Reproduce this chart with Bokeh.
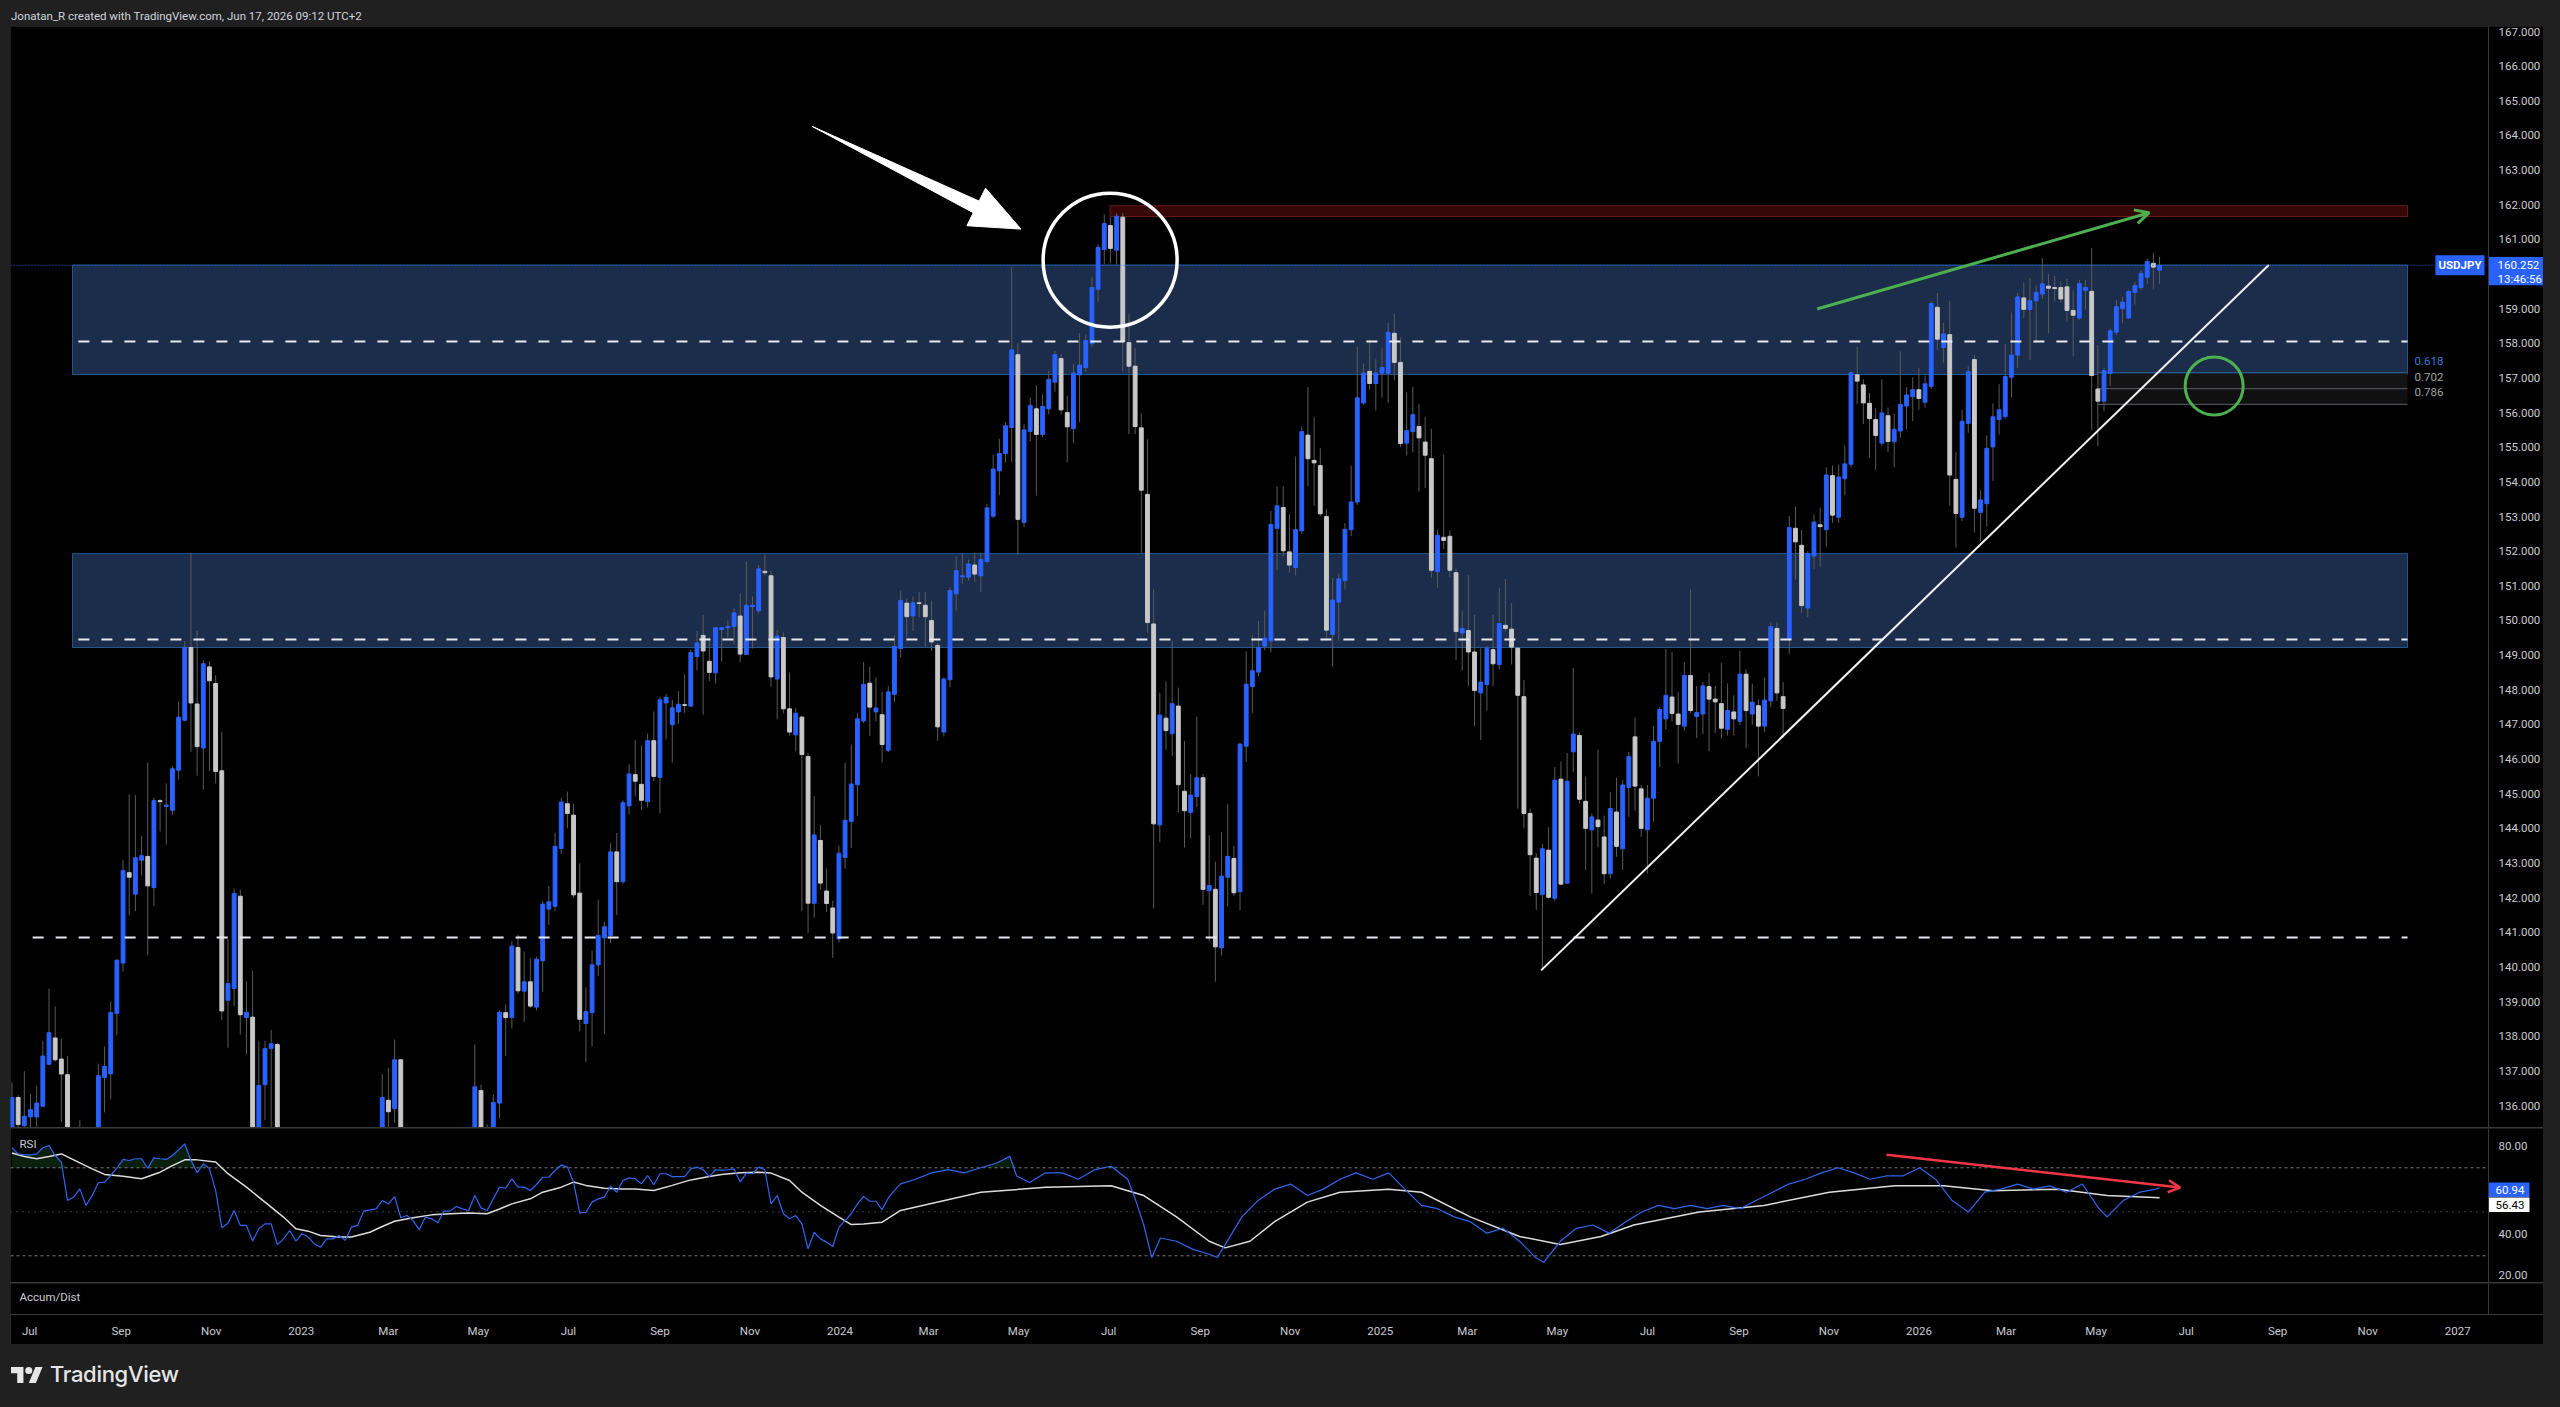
import datetime as dt
import numpy as np
from bokeh.plotting import figure
from bokeh.layouts import column, row
from bokeh.models import (ColumnDataSource, Range1d, FixedTicker, Label, Span, Arrow, OpenHead,
                          Div, Spacer)
from bokeh.core.properties import value
from bokeh.embed import file_html
from bokeh.resources import INLINE

nan = float("nan")

# ---------------- DATA ----------------
FIRST_BAR = "2022-06-19"
LAST_BAR = "2026-06-13"

OPEN = [
    135.2, 136.23, 135.42, 135.67, 135.67, 135.98, 137.19, 137.95, 137.34, 136.89,
    nan, 133.0, nan, nan, 134.5, 136.81, 136.91, 138.66, 140.11, 142.72,
    142.10, 143.08, 143.19, 142.29, 144.80, 144.63, 144.52, 145.68, 147.12, 149.22,
    147.59, 146.32, 148.66, 148.18, 145.66, 139.04, 139.38, 142.04, 138.54, 138.55,
    134.5, 136.60, 137.65, 137.76, nan, nan, nan, nan, nan, nan,
    nan, nan, nan, nan, nan, nan, nan, nan, nan, nan,
    134.8, 136.15, 135.91, 137.32, nan, nan, nan, nan, nan, nan,
    nan, nan, nan, nan, nan, 134.5, 136.43, 134.0, 134.5, 136.07,
    138.68, 138.54, 140.56, 139.30, 139.57, 138.84, 140.18, 141.67, 141.75, 143.42,
    144.71, 144.38, 142.13, 138.37, 138.68, 140.06, 140.84, 140.91, 143.32, 142.46,
    144.65, 145.55, 145.27, 144.77, 146.53, 145.47, 147.62, 146.99, 147.36, 147.57,
    147.53, 148.96, 149.57, 148.82, 148.49, 149.74, 149.79, 149.83, 150.13, 149.02,
    150.40, 150.28, 151.42, 151.29, 148.31, 149.51, 147.45, 146.70, 147.21, 146.07,
    141.84, 143.65, 142.19, 141.70, 140.81, 143.16, 144.20, 145.26, 147.10, 148.19,
    147.36, 147.28, 146.25, 147.87, 149.19, 150.50, 150.13, 150.51, 150.44, 150.00,
    149.28, 146.78, 148.29, 150.77, 151.26, 151.25, 151.60, 151.29, 151.70, 153.01,
    154.32, 154.82, 155.57, 157.67, 152.83, 155.46, 156.11, 155.37, 156.11, 156.88,
    157.56, 156.00, 155.54, 157.09, 157.30, 157.99, 159.56, 160.71, 161.40, 160.69,
    161.64, 158.02, 157.34, 155.56, 153.64, 149.90, 144.10, 147.18, 146.73, 147.53,
    145.07, 144.46, 144.92, 145.46, 142.20, 142.24, 140.55, 142.59, 143.13, 142.17,
    146.37, 148.09, 148.51, 149.26, 149.41, 152.66, 153.26, 151.98, 151.53, 152.59,
    155.35, 154.62, 154.47, 153.00, 149.60, 150.53, 151.15, 152.62, 153.42, 156.28,
    157.19, 156.84, 157.14, 157.14, 158.29, 157.45, 155.12, 155.45, 155.60, 155.15,
    154.67, 151.41, 152.40, 152.43, 151.38, 149.64, 149.71, 149.09, 147.91, 148.15,
    149.16, 148.73, 149.86, 149.75, 149.20, 147.80, 144.43, 143.14, 142.09, 143.37,
    141.98, 145.42, 142.42, 146.21, 146.68, 144.78, 143.96, 144.24, 143.75, 142.69,
    144.47, 143.41, 145.18, 146.64, 145.14, 143.96, 144.87, 146.51, 147.16, 147.79,
    147.30, 146.95, 148.41, 147.23, 147.30, 148.09, 147.73, 147.60, 146.86, 147.36,
    147.09, 148.45, 147.30, 147.54, 146.95, 147.68, 149.77, 147.80, 149.45, 152.66,
    152.17, 150.36, 151.86, 152.76, 152.62, 154.18, 152.98, 154.09, 154.51, 157.09,
    156.80, 156.27, 155.80, 155.12, 155.91, 155.16, 155.47, 156.19, 156.46, 156.66,
    156.30, 156.76, 159.04, 157.88, 158.25, 154.07, 152.98, 155.69, 157.53, 153.12,
    153.37, 155.01, 155.80, 155.89, 157.02, 157.66, 159.31, 158.98, 159.23, 159.42,
    159.65, 159.61, 159.61, 159.63, 158.95, 158.73, 159.53, 159.50, 156.68, 156.33,
    157.13, 158.32, 159.00, 158.73, 159.47, 159.61, 159.91, 160.31, 160.11,
]
HIGH = [
    136.67, 136.30, 136.99, 136.34, 136.56, 137.86, 139.38, 138.86, 137.94, 137.43,
    nan, 135.58, nan, nan, 137.21, 137.70, 139.00, 140.23, 143.08, 144.98,
    144.96, 143.78, 145.90, 144.89, 144.85, 145.30, 145.79, 147.67, 149.40, 151.95,
    149.70, 148.85, 148.83, 148.42, 146.79, 140.80, 142.26, 142.23, 139.58, 139.89,
    137.86, 137.86, 138.18, 137.81, nan, nan, nan, nan, nan, nan,
    nan, nan, nan, nan, nan, nan, nan, nan, nan, nan,
    136.91, 137.08, 137.91, 137.34, nan, nan, nan, nan, nan, nan,
    nan, nan, nan, nan, nan, 137.76, 136.60, 135.46, 136.32, 138.75,
    138.92, 140.74, 140.93, 140.45, 140.25, 140.30, 141.90, 142.34, 143.86, 144.88,
    145.06, 144.71, 142.99, 139.41, 140.47, 141.94, 141.31, 143.57, 143.87, 144.81,
    145.85, 146.55, 146.39, 146.73, 147.37, 147.80, 147.88, 147.71, 147.96, 148.45,
    149.15, 149.70, 150.16, 149.51, 149.81, 149.81, 150.00, 150.35, 150.77, 151.70,
    150.69, 151.60, 151.89, 151.44, 149.73, 149.66, 148.50, 147.47, 147.25, 146.18,
    144.93, 144.10, 142.83, 141.91, 143.50, 145.90, 146.42, 147.32, 148.80, 148.67,
    148.35, 147.94, 148.10, 149.57, 150.86, 150.64, 150.69, 150.82, 150.82, 150.57,
    149.35, 148.35, 150.95, 151.85, 151.93, 151.76, 151.96, 151.96, 153.37, 154.79,
    155.24, 155.72, 160.20, 158.00, 155.67, 156.44, 156.79, 156.53, 157.21, 157.78,
    157.69, 156.49, 157.40, 158.30, 158.25, 159.91, 160.86, 161.72, 161.64, 161.76,
    161.76, 158.85, 157.87, 155.98, 155.23, 150.89, 147.91, 148.24, 149.42, 148.06,
    146.52, 145.57, 147.23, 145.57, 143.80, 143.04, 143.90, 144.70, 143.50, 146.47,
    149.11, 149.57, 149.99, 150.29, 153.16, 153.87, 153.87, 153.07, 154.73, 155.60,
    156.74, 155.88, 154.97, 153.22, 151.23, 151.35, 152.81, 154.47, 157.90, 157.42,
    158.10, 157.54, 157.87, 158.59, 158.85, 158.17, 156.59, 156.74, 156.24, 155.88,
    155.53, 152.62, 154.79, 152.60, 151.50, 150.29, 151.31, 150.16, 149.20, 149.27,
    150.16, 150.95, 151.20, 150.50, 149.23, 148.28, 144.57, 143.28, 143.55, 144.03,
    145.77, 145.93, 146.18, 148.63, 146.78, 145.50, 144.43, 146.27, 144.37, 145.05,
    145.46, 145.39, 146.21, 147.20, 145.25, 145.25, 146.95, 147.50, 149.18, 149.09,
    147.94, 148.79, 150.90, 148.11, 148.22, 148.49, 148.11, 148.77, 148.18, 147.84,
    149.13, 148.59, 148.18, 147.73, 148.36, 149.95, 149.95, 148.22, 153.02, 153.29,
    152.61, 152.00, 153.06, 153.26, 154.42, 154.47, 154.50, 155.05, 157.18, 157.90,
    156.96, 156.57, 156.13, 156.96, 156.15, 155.97, 157.77, 156.74, 157.02, 157.29,
    157.07, 159.23, 159.45, 158.59, 159.23, 154.86, 156.08, 157.35, 157.66, 153.76,
    155.34, 156.26, 156.82, 157.99, 158.89, 159.45, 159.76, 159.89, 159.67, 160.46,
    160.00, 159.95, 159.78, 159.86, 159.53, 159.83, 159.83, 160.75, 157.95, 157.29,
    158.43, 159.25, 159.34, 159.55, 159.78, 160.10, 160.44, 160.61, 160.50,
]
LOW = [
    134.90, 135.30, 135.30, 135.37, 135.37, 135.96, 137.16, 137.27, 135.53, 133.50,
    nan, 132.00, nan, nan, 134.00, 135.80, 136.18, 138.03, 139.87, 141.50,
    141.61, 142.64, 140.34, 141.75, 143.91, 143.53, 144.38, 145.41, 147.09, 146.21,
    145.52, 145.11, 145.66, 145.30, 138.46, 137.67, 138.87, 138.05, 137.48, 133.60,
    133.90, 135.58, 135.37, 134.00, nan, nan, nan, nan, nan, nan,
    nan, nan, nan, nan, nan, nan, nan, nan, nan, nan,
    134.50, 135.37, 135.50, 133.50, nan, nan, nan, nan, nan, nan,
    nan, nan, nan, nan, nan, 134.00, 134.00, 133.50, 134.20, 135.63,
    137.43, 138.22, 139.22, 138.41, 138.81, 138.75, 139.28, 141.21, 141.61, 143.27,
    144.00, 142.00, 138.14, 137.25, 137.70, 139.74, 138.06, 140.69, 141.50, 142.40,
    144.40, 144.92, 144.52, 144.60, 145.36, 144.43, 146.57, 145.90, 147.01, 147.33,
    147.50, 148.56, 147.28, 148.25, 148.18, 148.81, 149.50, 149.32, 148.80, 149.02,
    149.19, 150.20, 151.30, 148.09, 147.15, 147.32, 146.67, 146.22, 141.61, 140.98,
    141.42, 142.23, 141.58, 140.26, 140.70, 142.83, 143.43, 144.35, 147.04, 146.67,
    147.09, 145.90, 146.20, 147.64, 148.93, 149.51, 149.70, 150.09, 149.23, 149.12,
    146.52, 146.65, 148.07, 150.28, 151.06, 151.16, 151.12, 150.82, 151.65, 152.96,
    153.61, 154.56, 154.56, 151.89, 152.70, 155.18, 153.61, 155.28, 155.95, 156.60,
    155.95, 154.56, 155.12, 155.72, 157.17, 157.90, 159.20, 160.28, 160.31, 160.28,
    157.19, 155.38, 155.38, 151.95, 149.64, 141.69, 143.60, 146.27, 146.09, 144.46,
    143.45, 143.71, 144.61, 141.79, 140.73, 139.57, 140.33, 141.75, 142.05, 141.64,
    145.91, 147.33, 148.39, 149.14, 149.08, 151.45, 151.86, 151.38, 151.30, 152.50,
    153.87, 153.31, 153.00, 149.41, 148.66, 149.41, 150.89, 152.43, 153.34, 156.21,
    156.66, 156.06, 156.43, 156.28, 156.93, 155.00, 154.77, 154.85, 153.72, 153.82,
    151.23, 150.95, 152.06, 151.25, 148.86, 148.55, 148.11, 146.95, 146.55, 147.40,
    148.11, 148.59, 149.68, 148.73, 144.57, 144.00, 142.05, 141.64, 139.90, 141.98,
    141.91, 142.36, 142.39, 145.63, 144.71, 142.80, 142.12, 143.45, 142.39, 142.55,
    143.18, 142.80, 144.33, 144.50, 143.75, 142.69, 144.19, 145.77, 146.86, 147.09,
    145.87, 146.82, 147.32, 146.61, 146.72, 146.23, 146.75, 146.59, 146.68, 146.68,
    146.99, 146.31, 146.99, 145.50, 146.78, 147.50, 147.68, 146.61, 149.04, 151.18,
    150.22, 150.10, 151.49, 151.55, 152.13, 152.82, 152.82, 153.61, 154.42, 156.24,
    155.67, 154.70, 154.35, 155.03, 154.86, 154.42, 155.27, 155.52, 155.75, 156.08,
    156.15, 156.68, 157.81, 157.44, 153.32, 152.10, 152.87, 155.42, 152.54, 152.29,
    152.71, 154.03, 155.36, 155.82, 156.44, 157.29, 158.73, 157.51, 158.03, 159.28,
    158.29, 159.20, 159.17, 158.62, 157.62, 158.67, 158.98, 155.49, 155.03, 156.04,
    156.77, 158.23, 158.58, 158.70, 159.12, 159.55, 159.72, 159.56, 159.72,
]
CLOSE = [
    136.23, 135.45, 135.69, 135.88, 136.07, 137.43, 138.10, 137.32, 136.91, 134.00,
    nan, 134.00, nan, nan, 136.86, 137.125, 138.68, 140.19, 142.78, 142.59,
    143.15, 143.21, 142.34, 144.80, 144.77, 144.67, 145.72, 147.21, 149.22, 147.62,
    146.36, 148.75, 148.26, 145.64, 138.73, 139.52, 142.12, 138.62, 138.69, 134.20,
    136.58, 137.64, 137.78, 134.50, nan, nan, nan, nan, nan, nan,
    nan, nan, nan, nan, nan, nan, nan, nan, nan, nan,
    136.23, 135.82, 137.32, 134.00, nan, nan, nan, nan, nan, nan,
    nan, nan, nan, nan, nan, 136.54, 134.50, 134.30, 136.09, 138.69,
    138.54, 140.60, 139.31, 139.57, 138.87, 140.22, 141.81, 141.88, 143.48, 144.76,
    144.43, 142.08, 138.49, 138.71, 140.06, 140.91, 141.16, 143.32, 142.46, 144.74,
    145.57, 145.36, 144.81, 146.53, 145.50, 147.71, 147.78, 147.48, 147.58, 147.55,
    149.07, 149.35, 149.12, 148.50, 149.79, 149.79, 149.83, 150.22, 149.03, 150.44,
    150.44, 151.49, 151.38, 148.37, 149.55, 147.45, 146.78, 147.32, 146.13, 141.84,
    143.81, 142.42, 141.83, 140.98, 143.28, 144.23, 145.28, 147.16, 148.16, 147.50,
    147.47, 146.42, 147.94, 149.25, 150.58, 150.11, 150.51, 150.49, 150.11, 149.38,
    146.93, 148.31, 150.86, 151.44, 151.29, 151.63, 151.34, 151.76, 153.25, 154.37,
    154.82, 155.62, 157.81, 152.92, 155.50, 156.21, 155.37, 156.18, 156.96, 157.67,
    156.08, 155.59, 157.14, 157.37, 158.08, 159.61, 160.77, 161.46, 160.74, 161.67,
    158.05, 157.34, 155.60, 153.76, 149.94, 144.13, 147.27, 146.82, 147.60, 145.26,
    144.51, 144.96, 145.46, 142.24, 142.35, 140.58, 142.62, 143.19, 142.14, 146.43,
    148.16, 148.55, 149.22, 149.49, 152.77, 153.31, 152.01, 151.60, 152.62, 155.45,
    154.67, 154.55, 153.08, 149.72, 150.59, 151.20, 152.63, 153.42, 156.43, 157.14,
    156.84, 157.14, 157.30, 158.32, 157.45, 155.11, 155.48, 155.94, 155.27, 154.77,
    151.45, 152.46, 152.31, 151.45, 149.68, 149.77, 149.09, 147.98, 148.22, 149.20,
    148.75, 149.91, 149.77, 149.23, 147.84, 144.43, 143.24, 142.15, 143.41, 142.01,
    145.39, 142.39, 145.36, 146.72, 144.84, 144.00, 144.33, 144.05, 142.69, 144.57,
    143.48, 145.25, 146.07, 145.22, 144.00, 144.87, 146.51, 147.43, 147.84, 147.32,
    147.00, 148.41, 147.40, 147.34, 148.11, 147.73, 147.65, 146.89, 147.40, 147.16,
    148.45, 147.40, 147.64, 146.95, 147.70, 149.82, 147.91, 147.46, 152.68, 152.27,
    150.43, 151.93, 152.84, 152.71, 154.20, 153.04, 154.14, 154.52, 157.15, 156.91,
    156.28, 155.83, 155.34, 155.99, 155.17, 155.52, 156.24, 156.51, 156.66, 156.41,
    156.83, 159.15, 158.12, 158.27, 154.20, 153.09, 155.75, 157.18, 153.24, 153.48,
    154.97, 155.88, 156.08, 157.04, 157.66, 159.34, 158.98, 159.23, 159.47, 159.72,
    159.59, 159.58, 159.28, 158.95, 158.81, 159.72, 159.61, 157.07, 156.33, 157.21,
    158.36, 159.06, 159.19, 159.50, 159.67, 160.02, 160.36, 160.20, 160.25,
]

# RSI, positions given as bar numbers
RSI_BAR = list(range(0, 145)) + [
    146.4, 149.0, 151.7, 154.3, 157.0, 159.6, 161.7, 162.8, 164.9, 167.5, 170.2, 172.8, 175.5,
    178.1, 180.8, 182.1, 183.4, 184.7, 186.1, 188.7, 191.4, 194.0, 195.3, 196.6, 199.3, 201.9,
    204.6, 207.2, 209.9, 212.5, 215.2, 217.8, 220.5, 223.1, 225.7, 228.4, 231.0, 233.7, 236.3,
    239.0, 241.6, 244.3, 246.9, 248.2, 250.9, 253.5, 256.2, 258.8, 261.5, 264.1, 266.8, 269.4,
    272.0, 274.7, 277.3, 280.0, 282.6, 285.3, 287.9, 290.6, 293.2, 295.9, 298.5, 301.1, 303.8,
    306.4, 309.1, 311.7, 314.4, 317.0, 319.7, 322.3, 325.0, 327.6, 330.2, 332.9, 335.5, 338.2,
    339.5, 342.1, 344.8, 347.4, 348.0]
RSI_VAL = [
    79.1, 76.3, 75.9, 75.9, 76.3, 79.1, 80.1, 75.6, 72.6, 55.1,
    56.7, 60.4, 52.9, 57.4, 63.2, 63.5, 66.5, 69.8, 73.8, 73.3,
    74.1, 74.1, 69.8, 74.5, 74.1, 73.8, 75.6, 78.2, 80.9, 73.3,
    67.7, 71.8, 69.5, 59.7, 42.7, 44.8, 50.6, 43.8, 43.8, 36.7,
    42.3, 44.5, 44.5, 35.1, 37.7, 41.5, 36.7, 40.0, 38.5, 35.4,
    33.9, 37.7, 37.7, 39.2, 37.0, 43.0, 43.8, 50.3, 50.9, 51.3,
    55.1, 53.6, 56.9, 47.3, 48.3, 46.0, 41.8, 47.6, 46.8, 45.0,
    50.3, 50.3, 52.4, 51.3, 50.6, 57.4, 51.8, 50.6, 55.9, 61.2,
    60.7, 65.0, 61.2, 61.2, 59.7, 62.4, 65.7, 65.7, 68.8, 71.3,
    70.3, 63.5, 49.4, 49.8, 54.4, 55.9, 56.7, 61.7, 58.9, 64.2,
    65.4, 65.0, 62.7, 66.5, 62.3, 67.3, 67.3, 66.0, 66.0, 66.0,
    69.5, 70.3, 69.1, 66.0, 69.1, 68.8, 69.1, 69.5, 63.5, 67.6,
    67.3, 70.3, 69.1, 53.6, 57.4, 49.1, 46.8, 48.3, 44.5, 33.2,
    40.7, 37.7, 36.2, 34.2, 43.0, 46.0, 49.1, 53.6, 57.0, 54.8,
    54.8, 50.9, 56.3, 59.7, 62.7,
    64.8, 67.7, 69.2, 67.7, 70.0, 72.2, 75.2, 66.3, 63.3, 67.7, 67.7, 64.8, 69.2,
    70.7, 64.8, 55.1, 44.0, 29.2, 38.1, 36.6, 32.9, 30.7, 29.2, 35.1, 47.7, 55.1,
    60.3, 62.6, 57.4, 60.3, 64.8, 67.7, 64.8, 67.7, 60.3, 52.9, 51.4, 47.7, 45.5,
    40.3, 42.5, 36.6, 29.2, 27.0, 36.6, 42.5, 44.0, 40.3, 45.5, 49.9, 52.9, 51.4,
    52.9, 51.4, 52.9, 51.4, 55.1, 58.9, 62.6, 64.8, 67.7, 70.0, 67.7, 64.8, 66.3,
    66.3, 70.0, 64.8, 55.1, 49.9, 58.9, 60.3, 62.6, 60.3, 61.8, 58.9, 62.6, 51.4,
    47.7, 55.1, 58.9, 60.3, 60.94]

RSI_MA_BAR = [0, 2, 4, 6, 8, 10, 13, 15, 18, 21, 24, 26, 28, 30, 33, 35, 38, 41, 44, 46, 48, 50,
              53, 55, 58, 60, 62, 65, 68, 71, 74, 77, 79, 81, 84, 86, 89, 91, 93, 96, 99, 101,
              104, 107, 110, 113, 115, 118, 121, 123, 126, 128, 131, 134, 136, 138, 141, 144,
              157, 167.5, 178.1, 183.4, 188.7, 194, 196.6, 200.6, 204.6, 209.9, 215.2, 223.1,
              228.4, 236.3, 244.3, 250.9, 257.5, 262.8, 273.4, 283.9, 294.5, 305.1, 313, 321,
              331.6, 339.5, 348]
RSI_MA_VAL = [76.7, 75.1, 74.1, 75.1, 76.3, 73.6, 69.5, 67.0, 66.2, 65.0, 68.0, 71.0, 73.6, 73.6,
              72.6, 67.3, 61.2, 54.4, 47.6, 42.3, 41.2, 39.2, 38.5, 38.5, 40.7, 43.3, 45.7, 47.3,
              48.6, 49.1, 49.4, 49.1, 51.3, 53.6, 55.9, 58.9, 61.2, 63.5, 62.0, 60.7, 60.4, 60.4,
              59.7, 62.0, 64.5, 66.0, 67.0, 67.7, 68.0, 67.6, 64.2, 58.9, 52.9, 47.6, 44.2, 44.5,
              45.3, 50.6,
              58.9, 61.1, 61.8, 57.4, 47.7, 36.6, 33.6, 36.6, 45.5, 54.4, 58.9, 60.3,
              58.9, 47.7, 38.8, 35.1, 38.8, 44.0, 49.9, 52.9, 58.9, 61.8, 61.8, 59.6,
              60.3, 57.4, 56.43]

PRICE_TICKS = list(range(136, 168))
RSI_TICKS = [20, 40, 60, 80]
TIME_TICK_DATES = ["2022-07-01", "2022-09-01", "2022-11-01", "2023-01-01", "2023-03-01",
                   "2023-05-01", "2023-07-01", "2023-09-01", "2023-11-01", "2024-01-01",
                   "2024-03-01", "2024-05-01", "2024-07-01", "2024-09-01", "2024-11-01",
                   "2025-01-01", "2025-03-01", "2025-05-01", "2025-07-01", "2025-09-01",
                   "2025-11-01", "2026-01-01", "2026-03-01", "2026-05-01", "2026-07-01",
                   "2026-09-01", "2026-11-01", "2027-01-01"]
TIME_TICK_LABELS = ["Jul", "Sep", "Nov", "2023", "Mar", "May", "Jul", "Sep", "Nov", "2024",
                    "Mar", "May", "Jul", "Sep", "Nov", "2025", "Mar", "May", "Jul", "Sep",
                    "Nov", "2026", "Mar", "May", "Jul", "Sep", "Nov", "2027"]

# drawings (date, price)
ZONE_START = "2022-07-30"
ZONE_END = "2026-11-28"
ZONE_BOTTOM = [157.10, 149.22]
ZONE_TOP = [160.26, 151.93]
LEVEL_PRICE = [158.05, 149.45, 140.85]
LEVEL_START = ["2022-08-03", "2022-08-03", "2022-07-03"]
RED_BOX = dict(start="2024-07-02", end="2026-11-28", bottom=161.66, top=161.97)
FIB_START = "2026-05-02"
FIB_LEVELS = [157.15, 156.69, 156.24]
FIB_NAMES = ["0.618", "0.702", "0.786"]
TREND = dict(d0="2025-04-20", p0=139.90, d1="2026-08-26", p1=160.26)
GREEN_ARROW = dict(d0="2025-10-24", p0=158.99, d1="2026-06-06", p1=161.77)
RED_ARROW = dict(d0="2025-12-10", v0=75.9, d1="2026-06-27", v1=61.0)
WHITE_CIRCLE = dict(d="2024-07-02", p=160.40)
GREEN_CIRCLE = dict(d="2026-07-20", p=156.77)
BIG_ARROW_DAYS = [543.0, 656.2, 660.6, 684.6, 648.0, 652.3]
BIG_ARROW_PRICES = [164.265, 162.105, 162.48, 161.297, 161.395, 161.77]
LAST_PRICE = 160.252
LAST_TIME = "13:46:56"
SYMBOL = "USDJPY"
RSI_LAST = 60.94
RSI_MA_LAST = 56.43

# ---------------- HELPERS ----------------
ORIGIN = dt.date(2022, 6, 18)


def to_day(s):
    return float((dt.date.fromisoformat(s) - ORIGIN).days)


n = len(OPEN)
bx0, bx1 = to_day(FIRST_BAR), to_day(LAST_BAR)
step = (bx1 - bx0) / (n - 1)
bar_x = bx0 + step * np.arange(n)

o = np.array(OPEN); h = np.array(HIGH); l = np.array(LOW); c = np.array(CLOSE)
up = c >= o
src_up = ColumnDataSource(dict(x=bar_x[up], o=o[up], h=h[up], l=l[up], c=c[up]))
src_dn = ColumnDataSource(dict(x=bar_x[~up], o=o[~up], h=h[~up], l=l[~up], c=c[~up]))
src_all = ColumnDataSource(dict(x=bar_x, h=h, l=l))

FONT = "Roboto"
FS = "11.5px"
BG = "#000000"
OUTER = "#202020"
SEP = "#3a3a3a"
TXT = "#c9cbd1"
BLUE = "#2962ff"
WHITE_C = "#c8c8c8"

PX_PER_DAY = 1.476
FRAME_W = 2533                     # chart area incl. price scale (page x 10..2543)
X_FULL = FRAME_W / PX_PER_DAY
X_SEP = 2478 / PX_PER_DAY          # price-scale separator (page x 2488)
xr = Range1d(0, X_FULL)
MAIN_H = 1101
P_LO, P_HI = 135.365, 167.145
PX_PER_PRICE = MAIN_H / (P_HI - P_LO)
RSI_H = 154
R_LO, R_HI = 17.86, 87.86
PX_PER_RSI = RSI_H / (R_HI - R_LO)


def pane(height, yr, border_bottom=0, xaxis=None):
    p = figure(width=FRAME_W, height=height, x_range=xr, y_range=yr, output_backend="svg",
               toolbar_location=None, y_axis_location=None, x_axis_location=xaxis,
               background_fill_color=BG, border_fill_color=BG, outline_line_color=None,
               min_border_left=0, min_border_right=0, min_border_top=0,
               min_border_bottom=border_bottom)
    p.xgrid.visible = False
    p.ygrid.visible = False
    p.add_layout(Span(location=X_SEP, dimension="height", line_color=SEP, line_width=1))
    return p


def scale_labels(p, ticks, texts, y_offset=0):
    p.text(x=np.full(len(ticks), X_SEP), y=ticks, text=texts, x_offset=10, y_offset=y_offset,
           text_align="left", text_baseline="middle", text_color=TXT,
           text_font=value(FONT), text_font_size=value(FS))


# ---------------- MAIN PANE ----------------
main = pane(MAIN_H, Range1d(P_LO, P_HI))

zs, ze = to_day(ZONE_START), to_day(ZONE_END)
main.quad(left=[zs, zs], right=[ze, ze], bottom=ZONE_BOTTOM, top=ZONE_TOP,
          fill_color="#1b2d4b", line_color="#23568a", line_width=1)

fs = to_day(FIB_START)
main.quad(left=[fs, fs], right=[ze, ze], bottom=[FIB_LEVELS[1], FIB_LEVELS[2]],
          top=[FIB_LEVELS[0], FIB_LEVELS[1]], fill_color=["#141414", "#101010"], line_color=None)
main.segment(x0=[fs] * 3, x1=[ze] * 3, y0=FIB_LEVELS, y1=FIB_LEVELS,
             line_color=["#2a6fb0", "#5f6268", "#5f6268"], line_width=1)

main.quad(left=[to_day(RED_BOX["start"])], right=[to_day(RED_BOX["end"])],
          bottom=[RED_BOX["bottom"]], top=[RED_BOX["top"]],
          fill_color="#360707", line_color="#6a1b1b", line_width=1)

main.segment(x0="x", x1="x", y0="l", y1="h", source=src_all, line_color="#5a5a5a", line_width=1)
BODY_W = 2.6
main.vbar(x="x", width=BODY_W, bottom="o", top="c", source=src_up,
          fill_color=BLUE, line_color=BLUE, line_width=1)
main.vbar(x="x", width=BODY_W, bottom="c", top="o", source=src_dn,
          fill_color=WHITE_C, line_color=WHITE_C, line_width=1)

for lp, ls in zip(LEVEL_PRICE, LEVEL_START):
    main.line(x=[to_day(ls), ze], y=[lp, lp], line_color="#e6ebf2", line_width=2,
              line_dash="11 12")

main.line(x=[to_day(TREND["d0"]), to_day(TREND["d1"])], y=[TREND["p0"], TREND["p1"]],
          line_color="#f2f2f2", line_width=2)

main.line(x=[0, X_SEP], y=[LAST_PRICE, LAST_PRICE], line_color=BLUE, line_dash="1 2",
          line_width=1)

main.patch(x=BIG_ARROW_DAYS, y=BIG_ARROW_PRICES, fill_color="#ffffff", line_color="#ffffff",
           line_width=1)

main.add_layout(Arrow(end=OpenHead(size=14, line_color="#4caf50", line_width=3),
                      x_start=to_day(GREEN_ARROW["d0"]), y_start=GREEN_ARROW["p0"],
                      x_end=to_day(GREEN_ARROW["d1"]), y_end=GREEN_ARROW["p1"],
                      line_color="#4caf50", line_width=3))

main.scatter(x=[to_day(WHITE_CIRCLE["d"])], y=[WHITE_CIRCLE["p"]], size=134, marker="circle",
             fill_alpha=0, line_color="#ffffff", line_width=3.5)
main.scatter(x=[to_day(GREEN_CIRCLE["d"])], y=[GREEN_CIRCLE["p"]], size=58, marker="circle",
             fill_alpha=0, line_color="#4caf50", line_width=3)

fib_colors = ["#2b7fd6", "#a3a3a3", "#a3a3a3"]
for lv, nm, col in zip(FIB_LEVELS, FIB_NAMES, fib_colors):
    main.add_layout(Label(x=ze, y=lv, text=nm, x_offset=7, y_offset=12, text_align="left",
                          text_baseline="middle", text_color=col, text_font=FONT,
                          text_font_size=FS))

# price scale
scale_labels(main, PRICE_TICKS, [f"{t:.3f}" for t in PRICE_TICKS])
box_top = LAST_PRICE + 8.3 / PX_PER_PRICE
box_bot = LAST_PRICE - 20.0 / PX_PER_PRICE
main.quad(left=[X_SEP + 0.5 / PX_PER_DAY], right=[X_FULL], bottom=[box_bot], top=[box_top],
          fill_color=BLUE, line_color=None)
main.text(x=[X_SEP, X_SEP], y=[LAST_PRICE, LAST_PRICE - 14 / PX_PER_PRICE],
          text=[f"{LAST_PRICE:.3f}", LAST_TIME], x_offset=9, text_align="left",
          text_baseline="middle", text_color="#ffffff", text_font=value(FONT),
          text_font_size=value(FS))
main.add_layout(Label(x=X_SEP, y=LAST_PRICE, text=SYMBOL, x_offset=-4, text_align="right",
                      text_baseline="middle", text_color="#ffffff", text_font=FONT,
                      text_font_style="bold", text_font_size=FS,
                      background_fill_color=BLUE, padding=3))

# ---------------- RSI PANE ----------------
rsi = pane(RSI_H, Range1d(R_LO, R_HI))

rx = bx0 + step * np.array(RSI_BAR)
rv = np.array(RSI_VAL)
mx = bx0 + step * np.array(RSI_MA_BAR)
mv = np.array(RSI_MA_VAL)
rsi.varea(x=rx, y1=np.full(len(rv), 70.0), y2=np.maximum(rv, 70.0), fill_color="#1f5a25",
          fill_alpha=0.35)
for lvl, dash in [(70, "3 3"), (50, "1 5"), (30, "3 3")]:
    rsi.line(x=[0, X_SEP], y=[lvl, lvl], line_color="#787b86", line_dash=dash, line_width=1)
rsi.line(x=mx, y=mv, line_color="#dcdcdc", line_width=1.5)
rsi.line(x=rx, y=rv, line_color="#2f66f0", line_width=1.2)
rsi.add_layout(Arrow(end=OpenHead(size=12, line_color="#f23645", line_width=2.5),
                     x_start=to_day(RED_ARROW["d0"]), y_start=RED_ARROW["v0"],
                     x_end=to_day(RED_ARROW["d1"]), y_end=RED_ARROW["v1"],
                     line_color="#f23645", line_width=2.5))
rsi.add_layout(Label(x=6.1, y=80.6, text="RSI", text_baseline="middle", text_color=TXT,
                     text_font=FONT, text_font_size=FS))
scale_labels(rsi, RSI_TICKS[1:], [f"{t:.2f}" for t in RSI_TICKS[1:]])
scale_labels(rsi, RSI_TICKS[:1], [f"{t:.2f}" for t in RSI_TICKS[:1]], y_offset=-3)
# value tags on the RSI scale
tag_c1 = RSI_LAST - 2.0 / PX_PER_RSI
tag_c2 = tag_c1 - 15.0 / PX_PER_RSI
half = 7.2 / PX_PER_RSI
tag_right = X_SEP + 41 / PX_PER_DAY
rsi.quad(left=[X_SEP + 0.5 / PX_PER_DAY] * 2, right=[tag_right] * 2,
         bottom=[tag_c1 - half, tag_c2 - half], top=[tag_c1 + half, tag_c2 + half],
         fill_color=[BLUE, "#ffffff"], line_color=None)
rsi.text(x=[X_SEP, X_SEP], y=[tag_c1, tag_c2], text=[f"{RSI_LAST:.2f}", f"{RSI_MA_LAST:.2f}"],
         x_offset=7, text_align="left", text_baseline="middle",
         text_color=["#ffffff", "#000000"], text_font=value(FONT), text_font_size=value(FS))

# ---------------- ACCUM/DIST PANE + TIME AXIS ----------------
ad = pane(61, Range1d(0, 1), border_bottom=30, xaxis="below")
xa = ad.xaxis[0]
tick_days = [int(to_day(d)) for d in TIME_TICK_DATES]
xa.ticker = FixedTicker(ticks=tick_days)
xa.major_label_overrides = {d: lab for d, lab in zip(tick_days, TIME_TICK_LABELS)}
xa.axis_line_color = SEP
xa.major_tick_line_color = None
xa.minor_tick_line_color = None
xa.major_tick_out = 0
xa.minor_tick_out = 0
xa.major_tick_in = 0
xa.major_label_standoff = 9
xa.major_label_text_color = TXT
xa.major_label_text_font = FONT
xa.major_label_text_font_size = FS
ad.add_layout(Label(x=6.1, y=0.56, text="Accum/Dist", text_baseline="middle", text_color=TXT,
                    text_font=FONT, text_font_size=FS))

# ---------------- PAGE ----------------
PAGE_W = 2552
header = Div(text='<div style="padding:8px 0 0 11px;font:11.5px Roboto;line-height:16px;'
                  'color:#d1d4dc;white-space:nowrap">Jonatan_R created with TradingView.com, '
                  'Jun 17, 2026 09:12 UTC+2</div>', width=PAGE_W, height=26, margin=0)
footer = Div(text='<div style="position:relative;width:400px;height:56px">'
                  '<svg style="position:absolute;left:11px;top:23px" width="32" height="16" '
                  'viewBox="0 4 36 18"><path d="M14 22H7V11H0V4h14v18zM28 22h-8l7.5-18h8L28 22z" '
                  'fill="#e6e6e6"/><circle cx="20" cy="8" r="4" fill="#e6e6e6"/></svg>'
                  '<span style="position:absolute;left:50px;top:19px;font:500 22px Inter;'
                  'color:#e6e6e6;line-height:22px;letter-spacing:-0.3px">TradingView</span></div>',
             width=PAGE_W, height=56, margin=0)

panes = column(main, rsi, ad, spacing=1, styles={"background-color": SEP})
body = row(Spacer(width=10, height=1318), panes, Spacer(width=PAGE_W - 10 - FRAME_W, height=1318))
layout = column(header, body, footer, styles={"background-color": OUTER})

TEMPLATE = ("{% block preamble %}<style>html,body{margin:0;padding:0;"
            "background-color:#202020;}</style>{% endblock %}")
open("out.html", "w").write(file_html(layout, INLINE, template=TEMPLATE))
